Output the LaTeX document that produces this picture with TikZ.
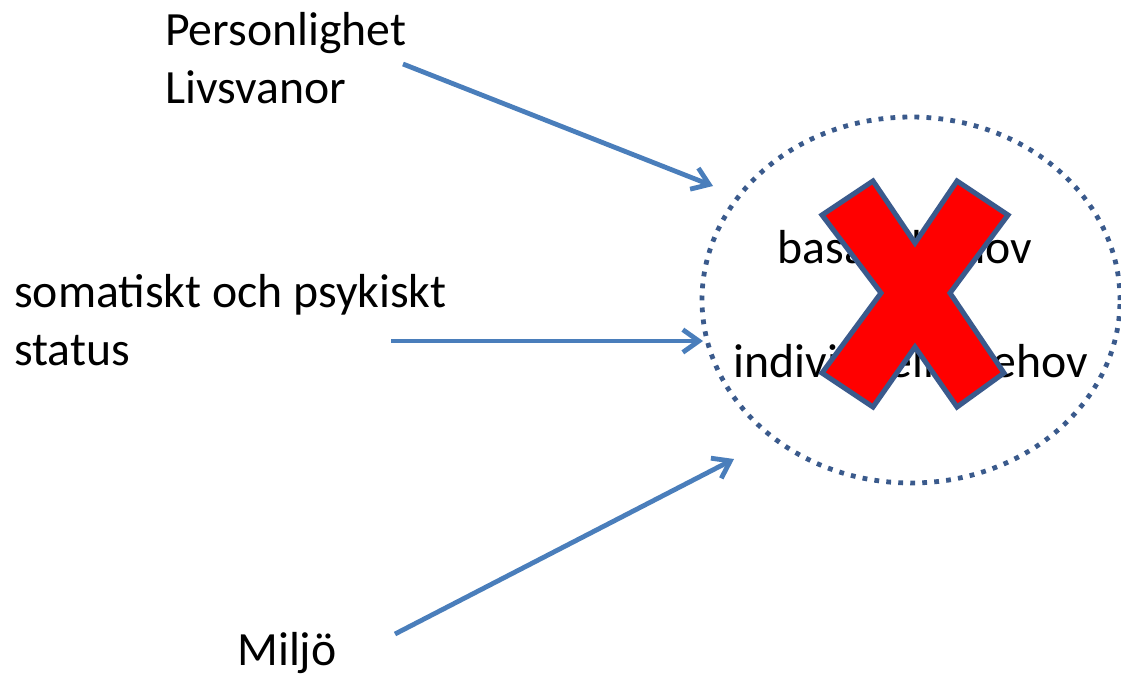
\documentclass[tikz,border=0pt]{standalone}
\usepackage{fontspec}
\setmainfont{Carlito}
\usetikzlibrary{arrows.meta,shapes.geometric}
\definecolor{arrowblue}{RGB}{74,126,187}
\definecolor{ringblue}{RGB}{58,90,140}
\definecolor{crossred}{RGB}{255,0,0}

\begin{document}
\begin{tikzpicture}[x=0.75pt,y=-0.75pt,
  lbl/.style={font=\fontsize{35.8}{43.5}\selectfont, inner sep=0pt, align=left, anchor=base west},
  inner/.style={font=\fontsize{35.8}{43.5}\selectfont, inner sep=0pt, anchor=base},
  feed/.style={draw=arrowblue, line width=3.6pt,
    -{Straight Barb[length=12pt,width=17pt,line width=3.6pt]}},
  ring/.style={draw=ringblue, line width=3.6pt, dash pattern=on 3.6pt off 5.4pt,
    ellipse, inner sep=0pt},
  cross/.style={fill=crossred, draw=ringblue, line width=3.8pt, line join=miter}]
\useasboundingbox (0,0) rectangle (1121,676);

% dotted boundary around the needs
\node[ring, minimum width=313.5pt, minimum height=274.5pt] (ring) at (911,300) {};

% the two kinds of needs
\node[inner] (basal) at (905,263) {basala behov};
\node[inner] (indiv) at (911,377) {individuella behov};

% red cross drawn over the needs
\path[cross] (822,215) -- (873,181) -- (915,243) -- (957,181) -- (1008,215)
  -- (950,293) -- (1004,373) -- (957,407) -- (915,347) -- (873,407)
  -- (822,373) -- (881,293) -- cycle;

% influencing factors (base anchor sits on the last line)
\node[lbl] (pers) at (165,103) {Personlighet\\Livsvanor};
\node[lbl] (soma) at (14,365) {somatiskt och psykiskt\\status};
\node[lbl] (milj) at (237,665) {Miljö};

% arrow end points
\coordinate (a1s) at (403,64);
\coordinate (a1e) at (713,186);
\coordinate (a2s) at (391,341);
\coordinate (a2e) at (703,341);
\coordinate (a3s) at (395,634);
\coordinate (a3e) at (734,459);

\draw[feed] (a1s) -- (a1e);
\draw[feed] (a2s) -- (a2e);
\draw[feed] (a3s) -- (a3e);
\end{tikzpicture}
\end{document}
